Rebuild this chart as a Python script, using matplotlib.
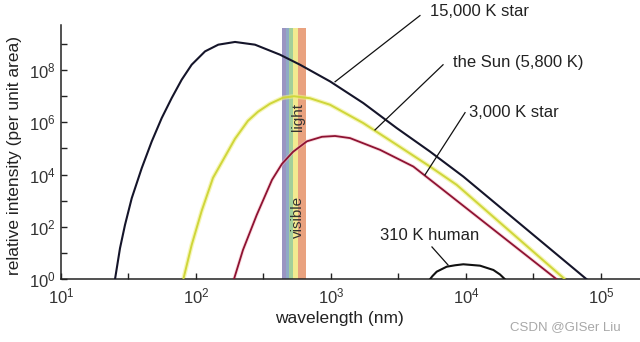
import numpy as np
import matplotlib
matplotlib.use("Agg")
import matplotlib.pyplot as plt

plt.rcParams['font.family'] = ['Liberation Sans', 'DejaVu Sans']
plt.rcParams['mathtext.fontset'] = 'custom'
plt.rcParams['mathtext.rm'] = 'Liberation Sans'
plt.rcParams['mathtext.it'] = 'Liberation Sans:italic'
plt.rcParams['mathtext.bf'] = 'Liberation Sans:bold'

# ---- data (log10 of wavelength in nm, log10 of relative intensity) ----
star15000_logwl = [1.400, 1.437, 1.474, 1.524, 1.598, 1.672, 1.746, 1.820, 1.894,
                   1.968, 2.067, 2.165, 2.289, 2.437, 2.622, 2.770, 2.993, 3.239,
                   3.487, 3.733, 3.980, 4.894]
star15000_logI = [0.000, 1.187, 2.078, 3.100, 4.249, 5.267, 6.163, 6.928, 7.629,
                  8.203, 8.712, 8.968, 9.072, 8.968, 8.586, 8.203, 7.564, 6.737,
                  5.780, 4.884, 3.927, 0.000]

sun_logwl = [1.906, 1.968, 2.042, 2.126, 2.193, 2.289, 2.385, 2.459, 2.548,
             2.644, 2.726, 2.844, 2.993, 3.239, 3.487, 3.733, 3.931, 4.733]
sun_logI = [0.000, 1.313, 2.614, 3.878, 4.490, 5.370, 6.059, 6.404, 6.710,
            6.940, 6.997, 6.921, 6.672, 5.971, 5.141, 4.310, 3.610, 0.000]

star3000_logwl = [2.281, 2.348, 2.450, 2.563, 2.637, 2.719, 2.822, 2.933, 3.030,
                  3.141, 3.363, 3.610, 3.783, 4.672]
star3000_logI = [0.000, 1.122, 2.461, 3.801, 4.413, 4.873, 5.275, 5.447, 5.478,
                 5.397, 4.949, 4.310, 3.610, 0.000]

human_logwl = [3.733, 3.752, 3.783, 3.857, 3.919, 3.980, 4.104, 4.203, 4.252, 4.289]
human_logI = [0.000, 0.126, 0.291, 0.482, 0.536, 0.574, 0.521, 0.356, 0.184, 0.000]

# visible band edges (nm) and colours
band_edges_nm = [433, 464, 491, 526, 573, 653]
band_colors = ['#9a94c2', '#8faac6', '#a2cf9a', '#f2ea90', '#e9a27f']

x_major_exp = [1, 2, 3, 4, 5]
x_minor_exp = [1.5, 2.5, 3.5, 4.5]
x_tick_labels = [r'$\mathregular{10^{1}}$', r'$\mathregular{10^{2}}$', r'$\mathregular{10^{3}}$',
                 r'$\mathregular{10^{4}}$', r'$\mathregular{10^{5}}$']
y_major_exp = [0, 1, 2, 3, 4, 5, 6, 7, 8, 9]
y_tick_labels = [r'$\mathregular{10^{0}}$', '', r'$\mathregular{10^{2}}$', '',
                 r'$\mathregular{10^{4}}$', '', r'$\mathregular{10^{6}}$', '',
                 r'$\mathregular{10^{8}}$', '']

curve_labels = ['15,000 K star', 'the Sun (5,800 K)', '3,000 K star', '310 K human']

# ---- figure ----
fig = plt.figure(figsize=(6.4, 3.42), dpi=100)
ax = fig.add_axes([61/640, 1-279.3/342, 1-61/640, (279.3-25)/342])
ax.set_xscale('log')
ax.set_yscale('log')
ax.set_xlim(10**1, 10**5.289)
ax.set_ylim(10**0, 10**9.72)

# visible band
for i, c in enumerate(band_colors):
    ax.axvspan(band_edges_nm[i], band_edges_nm[i+1], ymin=0, ymax=0.99,
               color=c, lw=0, zorder=1)

def P(a):
    return 10**np.asarray(a)

ax.plot(P(sun_logwl), P(sun_logI), color='#f0f08a', lw=3.2, alpha=0.6, zorder=2,
        solid_joinstyle='round')
ax.plot(P(sun_logwl), P(sun_logI), color='#cfd63a', lw=1.4, zorder=3,
        solid_joinstyle='round')
ax.plot(P(star3000_logwl), P(star3000_logI), color='#f5b8c0', lw=2.6, alpha=0.5,
        zorder=2, solid_joinstyle='round')
ax.plot(P(star3000_logwl), P(star3000_logI), color='#8e1232', lw=1.3, zorder=3,
        solid_joinstyle='round')
ax.plot(P(star15000_logwl), P(star15000_logI), color='#15152a', lw=1.5, zorder=4,
        solid_joinstyle='round')
ax.plot(P(human_logwl), P(human_logI), color='#111111', lw=1.5, zorder=4,
        solid_joinstyle='round')

ax.text(10**2.756, 10**2.38, 'visible', rotation=90, ha='center', va='center',
        fontsize=11, color='#333333', zorder=5)
ax.text(10**2.756, 10**6.2, 'light', rotation=90, ha='center', va='center',
        fontsize=11, color='#333333', zorder=5)

# leader lines and labels (positions in log units)
leaders = [((3.659, 10.08), (3.030, 7.55)),
           ((3.830, 8.20), (3.326, 5.71)),
           ((3.993, 6.37), (3.696, 3.99)),
           ((3.748, 1.236), (3.867, 0.547))]
label_pos = [(3.733, 10.23), (3.904, 8.28), (4.022, 6.36), (3.363, 1.66)]
for (p0, p1), txt, (tx, ty) in zip(leaders, curve_labels, label_pos):
    ax.plot([10**p0[0], 10**p1[0]], [10**p0[1], 10**p1[1]], color='#111111',
            lw=0.9, clip_on=False, zorder=6)
    ax.text(10**tx, 10**ty, txt, ha='left', va='center', fontsize=12,
            color='#222222', clip_on=False, zorder=6)

# axes styling
for s in ['top', 'right']:
    ax.spines[s].set_visible(False)
for s in ['left', 'bottom']:
    ax.spines[s].set_linewidth(1.1)
    ax.spines[s].set_color('#222222')

ax.set_xticks(P(x_major_exp))
ax.set_xticklabels(x_tick_labels)
ax.set_xticks(P(x_minor_exp), minor=True)
ax.set_xticklabels([], minor=True)
ax.set_yticks(P(y_major_exp))
ax.set_yticklabels(y_tick_labels)
ax.set_yticks([], minor=True)
ax.tick_params(axis='both', which='both', direction='in', length=4.5, width=1,
               color='#222222', labelsize=12, labelcolor='#333333')
ax.tick_params(axis='x', pad=5)
ax.tick_params(axis='y', pad=4)

ax.set_xlabel('wavelength (nm)', fontsize=12.5, color='#222222')
ax.xaxis.set_label_coords(0.48, -0.125)
ax.set_ylabel('relative intensity (per unit area)', fontsize=12.5, color='#222222')
ax.yaxis.set_label_coords(-0.067, 0.485)

fig.text(510/640, 1-327/342, 'CSDN @GISer Liu', fontsize=9.5, color='#a8a8a8',
         ha='left', va='center')

fig.savefig('out.png', dpi=100)
